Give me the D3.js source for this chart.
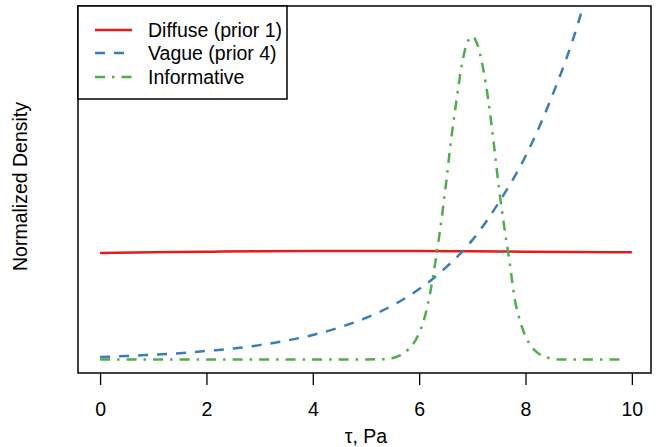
<!DOCTYPE html>
<html>
<head>
<meta charset="utf-8">
<script src="https://cdn.jsdelivr.net/npm/d3@7"></script>
<style>
  html, body { margin: 0; padding: 0; background: #fff; }
  svg { display: block; font-family: "Liberation Sans", Arial, Helvetica, sans-serif; }
</style>
</head>
<body>
<svg id="chart" width="657" height="447"></svg>
<script>
// ---- data ----
const xTicks = [0, 2, 4, 6, 8, 10];
const xLabel = "τ, Pa";
const yLabel = "Normalized Density";
const seriesNames = ["Diffuse (prior 1)", "Vague (prior 4)", "Informative"];
const seriesColors = ["#E41A1C", "#377EB8", "#4DAF4A"];

const diffuseTau = [0, 1, 2, 3, 4, 5, 6, 7, 8, 9, 10];
const diffuseVal = [0.313, 0.315, 0.317, 0.318, 0.319, 0.319, 0.319, 0.318, 0.317, 0.316, 0.315];

const vagueTau = [0, 0.5, 1, 1.5, 2, 2.5, 3, 3.5, 4, 4.5, 5, 5.5, 6, 6.5, 7, 7.5, 8, 8.5, 9, 9.5, 10];
const vagueVal = [0.007, 0.010, 0.014, 0.018, 0.025, 0.032, 0.042, 0.055, 0.072, 0.094, 0.122, 0.159,
                  0.207, 0.270, 0.351, 0.462, 0.598, 0.775, 0.995, 1.300, 1.700];

const informTau = [0, 1, 2, 3, 4, 5, 5.4, 5.5, 5.6, 5.7, 5.8, 5.9, 6.0, 6.1, 6.2, 6.3, 6.4, 6.5, 6.6, 6.7,
                   6.8, 6.9, 7.0, 7.1, 7.2, 7.3, 7.4, 7.5, 7.6, 7.7, 7.8, 7.9, 8.0, 8.1, 8.2, 8.3, 8.4,
                   8.5, 8.6, 9.0, 9.5, 9.85];
const informVal = [0, 0, 0, 0, 0, 0, 0.001, 0.004, 0.009, 0.017, 0.030, 0.048, 0.078, 0.122, 0.190, 0.282,
                   0.388, 0.510, 0.645, 0.760, 0.865, 0.930, 0.950, 0.925, 0.858, 0.763, 0.640, 0.505,
                   0.390, 0.288, 0.175, 0.112, 0.068, 0.040, 0.023, 0.012, 0.006, 0.002, 0, 0, 0, 0];

// ---- layout ----
const svg = d3.select("#chart");
const plot = { left: 78, top: 6, right: 651, bottom: 373 };

const x = d3.scaleLinear().domain([-0.4155, 10.36]).range([plot.left, plot.right]);
const y = d3.scaleLinear().domain([-0.04, 1.04]).range([plot.bottom, plot.top]);

svg.append("defs").append("clipPath").attr("id", "clip")
  .append("rect")
  .attr("x", plot.left).attr("y", plot.top)
  .attr("width", plot.right - plot.left).attr("height", plot.bottom - plot.top);

const series = [
  { tau: diffuseTau, val: diffuseVal, dash: null },
  { tau: vagueTau, val: vagueVal, dash: "10,9" },
  { tau: informTau, val: informVal, dash: "10,7,2.5,7" }
];

const line = d3.line()
  .x(d => x(d[0])).y(d => y(d[1]))
  .curve(d3.curveMonotoneX);

const g = svg.append("g").attr("clip-path", "url(#clip)");
series.forEach((s, i) => {
  const pts = s.tau.map((t, j) => [t, s.val[j]]);
  g.append("path")
    .attr("d", line(pts))
    .attr("fill", "none")
    .attr("stroke", seriesColors[i])
    .attr("stroke-width", 2.5)
    .attr("stroke-dasharray", s.dash)
    .attr("stroke-linecap", "butt");
});

// plot frame
svg.append("rect")
  .attr("x", plot.left).attr("y", plot.top)
  .attr("width", plot.right - plot.left).attr("height", plot.bottom - plot.top)
  .attr("fill", "none").attr("stroke", "#000").attr("stroke-width", 1.5);

// x axis
const xAxis = d3.axisBottom(x).tickValues(xTicks).tickSize(12).tickPadding(17)
  .tickFormat(d3.format("d"));
const ax = svg.append("g").attr("transform", `translate(0,${plot.bottom})`).call(xAxis);
ax.select(".domain").remove();
ax.selectAll(".tick line").attr("stroke", "#000").attr("stroke-width", 1.3);
ax.selectAll(".tick text").attr("font-size", 19.5).attr("fill", "#000")
  .attr("font-family", "'Liberation Sans', Arial, sans-serif");

svg.append("text")
  .attr("x", x(5)).attr("y", 443)
  .attr("text-anchor", "middle").attr("font-size", 19.5).attr("fill", "#000")
  .text(xLabel);

svg.append("text")
  .attr("transform", `translate(27,${(plot.top + plot.bottom) / 2 - 3}) rotate(-90)`)
  .attr("text-anchor", "middle").attr("font-size", 19.5).attr("fill", "#000")
  .text(yLabel);

// legend
const lg = svg.append("g");
lg.append("rect")
  .attr("x", plot.left).attr("y", plot.top)
  .attr("width", 209).attr("height", 93)
  .attr("fill", "#fff").attr("stroke", "#000").attr("stroke-width", 1.5);
const rowY = [30, 53, 77];
seriesNames.forEach((name, i) => {
  lg.append("line")
    .attr("x1", 95).attr("x2", 132).attr("y1", rowY[i]).attr("y2", rowY[i])
    .attr("stroke", seriesColors[i]).attr("stroke-width", 2.5)
    .attr("stroke-dasharray", series[i].dash);
  lg.append("text")
    .attr("x", 148).attr("y", rowY[i] + 7)
    .attr("font-size", 19.5).attr("fill", "#000")
    .text(name);
});
</script>
</body>
</html>
